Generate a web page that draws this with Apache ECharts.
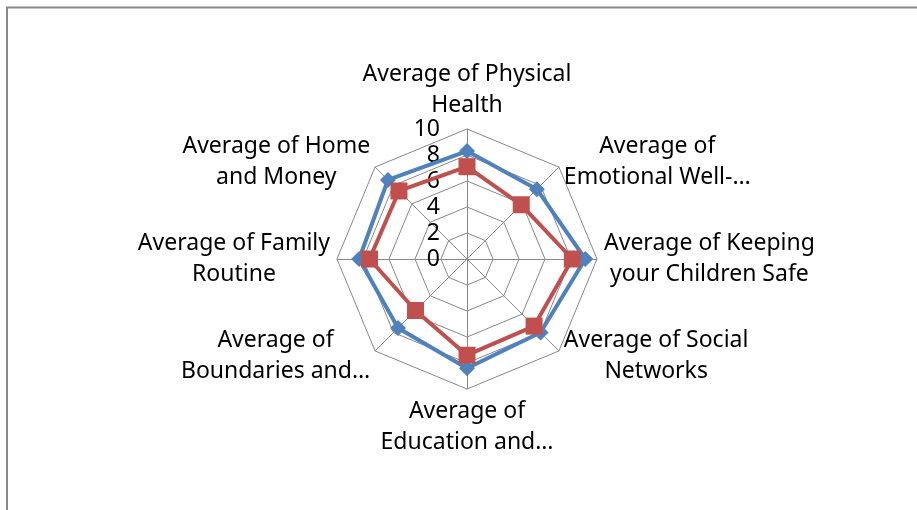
<!DOCTYPE html>
<html>
<head>
<meta charset="utf-8">
<script src="https://cdn.jsdelivr.net/npm/echarts@6/dist/echarts.min.js"></script>
<style>
	html, body { margin: 0; padding: 0; background: #fff; }
	#chart-main { width: 917px; height: 510px; }
</style>
</head>
<body>
<div id="chart-main"></div>

<script type="text/javascript">
	// 数据：从顶部开始按顺时针方向
	var categories = [
		'Average of Physical\nHealth',
		'Average of\nEmotional Well-…',
		'Average of Keeping\nyour Children Safe',
		'Average of Social\nNetworks',
		'Average of\nEducation and…',
		'Average of\nBoundaries and…',
		'Average of Family\nRoutine',
		'Average of Home\nand Money'
	];
	var blueValues = [8.3, 7.6, 9.1, 8.0, 8.4, 7.5, 8.3, 8.6];
	var redValues = [7.1, 5.9, 8.1, 7.3, 7.4, 5.6, 7.5, 7.4];
	var axisMax = 10;
	var axisStep = 2;

	// ECharts 的雷达图指标是逆时针排列的，这里换一下顺序
	var order = [0, 7, 6, 5, 4, 3, 2, 1];
	function reorder(arr) {
		return order.map(function (i) { return arr[i]; });
	}

	var indicators = reorder(categories).map(function (name, i) {
		var ind = { name: name, min: 0, max: axisMax };
		if (i === 0) {
			ind.axisLabel = { show: true };
		}
		return ind;
	});

	var myChart = echarts.init(document.getElementById('chart-main'));
	var font = '"Noto Sans", sans-serif';
	var option = {
		backgroundColor: '#fff',
		animation: false,
		graphic: [{
			type: 'rect',
			shape: { x: 7, y: 7.5, width: 930, height: 520 },
			style: { fill: 'none', stroke: '#898989', lineWidth: 2 },
			silent: true
		}],
		radar: {
			center: [467, 259],
			radius: 130,
			shape: 'polygon',
			startAngle: 90,
			splitNumber: axisMax / axisStep,
			indicator: indicators,
			nameGap: 7,
			axisName: {
				color: '#000',
				formatter: function (name) {
					return name.split('\n').map(function (l) { return '{c|' + l + '}'; }).join('\n');
				},
				rich: {
					c: { align: 'center', fontFamily: font, fontSize: 23, lineHeight: 31, color: '#000' }
				}
			},
			axisLine: { lineStyle: { color: '#888', width: 1 } },
			splitLine: { lineStyle: { color: '#888', width: 1 } },
			splitArea: { show: false },
			axisTick: { show: false },
			axisLabel: {
				show: false,
				color: '#000',
				fontFamily: font,
				fontSize: 23,
				margin: 27,
				lineHeight: 20,
				padding: [4, 0, 0, 0],
				showMinLabel: true,
				showMaxLabel: true
			}
		},
		series: [{
			type: 'radar',
			data: [
				{
					value: reorder(blueValues),
					symbol: 'diamond',
					symbolSize: 16,
					lineStyle: { color: '#4F81BD', width: 4 },
					itemStyle: { color: '#4F81BD' }
				},
				{
					value: reorder(redValues),
					symbol: 'rect',
					symbolSize: 17,
					lineStyle: { color: '#C0504D', width: 4 },
					itemStyle: { color: '#C0504D' }
				}
			]
		}]
	};

	myChart.setOption(option);
</script>
</body>
</html>
